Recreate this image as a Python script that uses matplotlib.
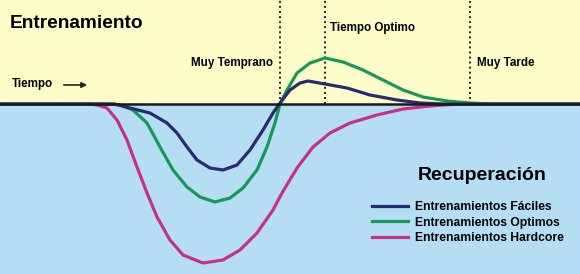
#Training vs recovery timing sketch: level above the line is training,
#below the line is recovery
import matplotlib.pyplot as plt
from matplotlib.lines import Line2D

plt.rcParams['font.family'] = ['Liberation Sans', 'DejaVu Sans']

# time axis (arbitrary units) and level (+ training, - recovery)
faciles_t = [0, 100, 115, 130, 150, 167, 177, 187, 197, 210, 223, 237, 250, 263, 273, 280, 290, 300, 308, 325, 347, 370, 397, 420, 443, 580]
faciles_v = [0, 0, 0, -4, -9, -19, -29, -43, -56, -64, -66, -61, -46, -26, -9, 1, 14, 21, 23, 20, 16, 9, 4, 1, 0, 0]

optimos_t = [0, 110, 120, 133, 147, 160, 173, 187, 200, 215, 230, 243, 257, 267, 275, 280, 287, 297, 310, 325, 343, 363, 383, 403, 423, 447, 470, 490, 580]
optimos_v = [0, 0, -1, -6, -19, -43, -66, -83, -93, -98, -94, -84, -66, -43, -19, 0, 14, 31, 41, 46, 42, 34, 24, 14, 7, 3, 1, 0, 0]

hardcore_t = [0, 90, 97, 107, 117, 127, 137, 147, 157, 170, 183, 203, 223, 240, 257, 273, 282, 297, 313, 330, 350, 377, 403, 430, 457, 477, 580]
hardcore_v = [0, 0, -1, -4, -16, -36, -63, -89, -113, -136, -151, -159, -156, -146, -129, -106, -89, -64, -43, -29, -19, -11, -5, -2, 0, 0, 0]

labels = ["Entrenamientos Fáciles", "Entrenamientos Optimos", "Entrenamientos Hardcore"]
colors = ["#2a2a72", "#16985a", "#c82f8a"]
markers_t = [280, 325, 470]   # Muy Temprano / Tiempo Optimo / Muy Tarde

BASE = 104  # pixel row of the zero line

fig = plt.figure(figsize=(5.8, 2.74), dpi=100)
ax = fig.add_axes([0, 0, 1, 1])
ax.set_xlim(0, 580)
ax.set_ylim(BASE - 274, BASE)
ax.axis("off")

ax.axhspan(0, BASE, color="#fefdc9", zorder=0)
ax.axhspan(BASE - 274, 0, color="#b5def5", zorder=0)

for t in markers_t:
    ax.plot([t, t], [0, BASE], color="#222222", lw=1.4, ls=(0, (1, 1.6)), zorder=1)

series = [(faciles_t, faciles_v), (optimos_t, optimos_v), (hardcore_t, hardcore_v)]
for (t, v), c in zip(series[::-1], colors[::-1]):
    ax.plot(t, v, color=c, lw=2.3, solid_joinstyle="round", solid_capstyle="round", zorder=3)

ax.axhline(0, color="#1a1a1a", lw=1.8, zorder=4)

bold = dict(fontweight="bold", color="black")
ax.text(10, BASE - 28, "Entrenamiento", fontsize=13.8, va="baseline", **bold)
ax.text(418, BASE - 180, "Recuperación", fontsize=14, va="baseline", **bold)
ax.text(12, BASE - 87, "Tiempo", fontsize=8.4, va="baseline", **bold)
ax.annotate("", xy=(90, BASE - 85), xytext=(61, BASE - 85),
            arrowprops=dict(arrowstyle="-|>", color="#222222", lw=1.2, mutation_scale=8))
ax.text(273, BASE - 66, "Muy Temprano", fontsize=8.4, va="baseline", ha="right", **bold)
ax.text(330, BASE - 31, "Tiempo Optimo", fontsize=8.4, va="baseline", **bold)
ax.text(477, BASE - 66, "Muy Tarde", fontsize=8.4, va="baseline", **bold)

handles = [Line2D([], [], color=c, lw=2.3) for c in colors]
leg = ax.legend(handles, labels, loc="upper left", bbox_to_anchor=(372 / 580, 1 - 201 / 274),
                frameon=False, handlelength=3.0, handletextpad=0.55, labelspacing=0.3,
                borderpad=0, borderaxespad=0,
                prop=dict(family=["Liberation Sans", "DejaVu Sans"], weight="bold", size=8.7))

fig.savefig("out.png", dpi=100)
